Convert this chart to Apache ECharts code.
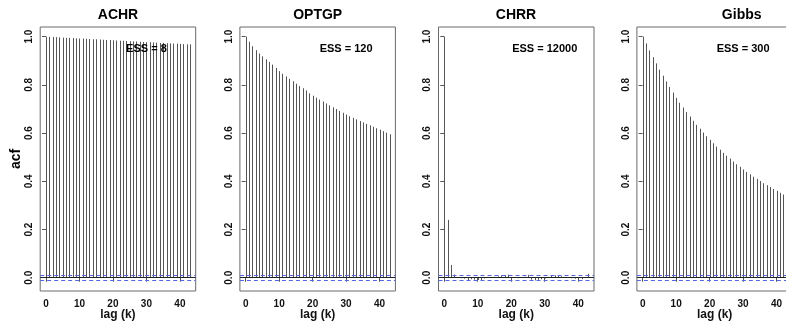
<!DOCTYPE html>
<html>
<head>
<meta charset="utf-8">
<script src="https://cdn.jsdelivr.net/npm/echarts@6/dist/echarts.min.js"></script>
<style>
html,body{margin:0;padding:0;background:#fff;}
#chart{width:786px;height:322px;}
</style>
</head>
<body>
<div id="chart"></div>
<script>
// ---- data ----
const panelNames = ['ACHR', 'OPTGP', 'CHRR', 'Gibbs'];
const essLabels = ['ESS = 8', 'ESS = 120', 'ESS = 12000', 'ESS = 300'];
const lags = [0,1,2,3,4,5,6,7,8,9,10,11,12,13,14,15,16,17,18,19,20,21,22,23,24,25,26,27,28,29,30,31,32,33,34,35,36,37,38,39,40,41,42,43];
const acfACHR = [1.000,0.999,0.998,0.998,0.997,0.996,0.995,0.995,0.994,0.993,0.992,0.992,0.991,0.990,0.989,0.989,0.988,0.987,0.986,0.986,0.985,0.984,0.983,0.983,0.982,0.981,0.980,0.980,0.979,0.978,0.977,0.977,0.976,0.975,0.974,0.974,0.973,0.972,0.971,0.971,0.970,0.969,0.968,0.968];
const acfOPTGP = [1.000,0.979,0.960,0.944,0.930,0.918,0.906,0.895,0.884,0.870,0.857,0.846,0.835,0.825,0.815,0.805,0.795,0.786,0.777,0.765,0.755,0.747,0.739,0.731,0.723,0.715,0.707,0.700,0.692,0.684,0.677,0.670,0.663,0.657,0.650,0.644,0.638,0.632,0.626,0.620,0.614,0.608,0.602,0.595];
const acfCHRR = [1.000,0.240,0.053,0.013,0.003,-0.002,-0.004,-0.010,-0.006,-0.008,-0.009,-0.012,-0.003,0.002,-0.001,0.004,0.006,0.009,0.011,0.013,0.003,0.002,-0.002,0.001,0.004,0.012,-0.008,-0.011,-0.009,-0.006,-0.003,0.002,0.007,0.010,0.011,0.006,0.003,0.001,-0.002,-0.004,-0.003,-0.006,0.002,0.016];
const acfGibbs = [1.000,0.972,0.943,0.915,0.889,0.863,0.838,0.814,0.791,0.768,0.746,0.726,0.706,0.687,0.669,0.651,0.634,0.618,0.602,0.587,0.572,0.558,0.544,0.531,0.518,0.506,0.494,0.482,0.471,0.460,0.449,0.439,0.429,0.419,0.410,0.401,0.392,0.384,0.376,0.368,0.360,0.352,0.345,0.338];
const confLimit = 0.014;
const xTicks = [0,10,20,30,40];
const yTicks = [0,0.2,0.4,0.6,0.8,1.0];
const essPos = [30, 0.949];

// ---- layout / style ----
const allAcf = [acfACHR, acfOPTGP, acfCHRR, acfGibbs];
const gridLefts = [40.2, 239.9, 438.5, 636.9];
const gridW = 155.5;
const titleX = [118, 317.7, 516, 741.7];
const FONT = 'Liberation Sans, Arial, Helvetica, sans-serif';
const BLUE = '#5466e2';

const grids = [], xAxes = [], yAxes = [], series = [], graphics = [];
allAcf.forEach((vals, i) => {
  grids.push({left: gridLefts[i], top: 27, width: gridW, height: 264,
    outerBoundsMode: 'none', containLabel: false,
    show: true, borderColor: '#6a6a6a', borderWidth: 1, backgroundColor: 'transparent'});
  xAxes.push({type: 'value', gridIndex: i, min: -1.72, max: 44.72,
    splitLine: {show: false}, axisLine: {show: false},
    axisTick: {show: true, customValues: xTicks, length: 4, lineStyle: {color: '#555'}},
    axisLabel: {customValues: xTicks, fontFamily: FONT, fontWeight: 'bold', fontSize: 10, color: '#111', margin: 8},
    name: 'lag (k)', nameLocation: 'middle', nameGap: 18, nameMoveOverlap: false,
    nameTextStyle: {fontFamily: FONT, fontWeight: 'bold', fontSize: 12, color: '#111'}});
  yAxes.push({type: 'value', gridIndex: i, min: -0.055, max: 1.04,
    splitLine: {show: false}, axisLine: {show: false},
    axisTick: {show: true, customValues: yTicks, length: 4, lineStyle: {color: '#555'}},
    axisLabel: {customValues: yTicks, rotate: 90, formatter: v => v.toFixed(1),
      fontFamily: FONT, fontWeight: 'bold', fontSize: 10, color: '#111', margin: 6},
    name: i === 0 ? 'acf' : '', nameLocation: 'middle', nameGap: 17, nameMoveOverlap: false,
    nameTextStyle: {fontFamily: FONT, fontWeight: 'bold', fontSize: 14, color: '#000'}});
  series.push({
    type: 'custom', xAxisIndex: i, yAxisIndex: i, z: 1,
    data: lags.map((k, j) => [k, vals[j]]),
    encode: {x: 0, y: 1},
    renderItem: (params, api) => {
      const p0 = api.coord([api.value(0), 0]);
      const p1 = api.coord([api.value(0), api.value(1)]);
      const x = Math.round(p0[0]) + 0.5;
      return {type: 'line', shape: {x1: x, y1: p0[1], x2: x, y2: p1[1]},
        style: {stroke: '#555', lineWidth: 1}};
    },
    markPoint: {silent: true, symbolSize: 0, animation: false,
      data: [{coord: essPos, value: essLabels[i]}],
      label: {show: true, position: 'inside', formatter: essLabels[i],
        fontFamily: FONT, fontWeight: 'bold', fontSize: 11, color: '#000'}}
  });
  // zero line and confidence bounds, drawn over the bars
  series.push({
    type: 'line', xAxisIndex: i, yAxisIndex: i, data: [], silent: true, z: 5,
    markLine: {silent: true, symbol: 'none', label: {show: false}, animation: false, z: 5,
      data: [
        {yAxis: 0, lineStyle: {color: '#222', type: 'solid', width: 1}},
        {yAxis: confLimit, lineStyle: {color: BLUE, type: [4, 3], width: 1}},
        {yAxis: -confLimit, lineStyle: {color: BLUE, type: [4, 3], width: 1}}
      ]}
  });
  graphics.push({type: 'text', x: titleX[i], y: 15.5,
    style: {text: panelNames[i], textAlign: 'center', textVerticalAlign: 'middle',
      font: 'bold 14px ' + FONT, fill: '#000'}});
});

const chart = echarts.init(document.getElementById('chart'), null, {renderer: 'canvas'});
chart.setOption({
  animation: false,
  backgroundColor: '#fff',
  grid: grids, xAxis: xAxes, yAxis: yAxes, series: series, graphic: graphics
});
</script>
</body>
</html>
